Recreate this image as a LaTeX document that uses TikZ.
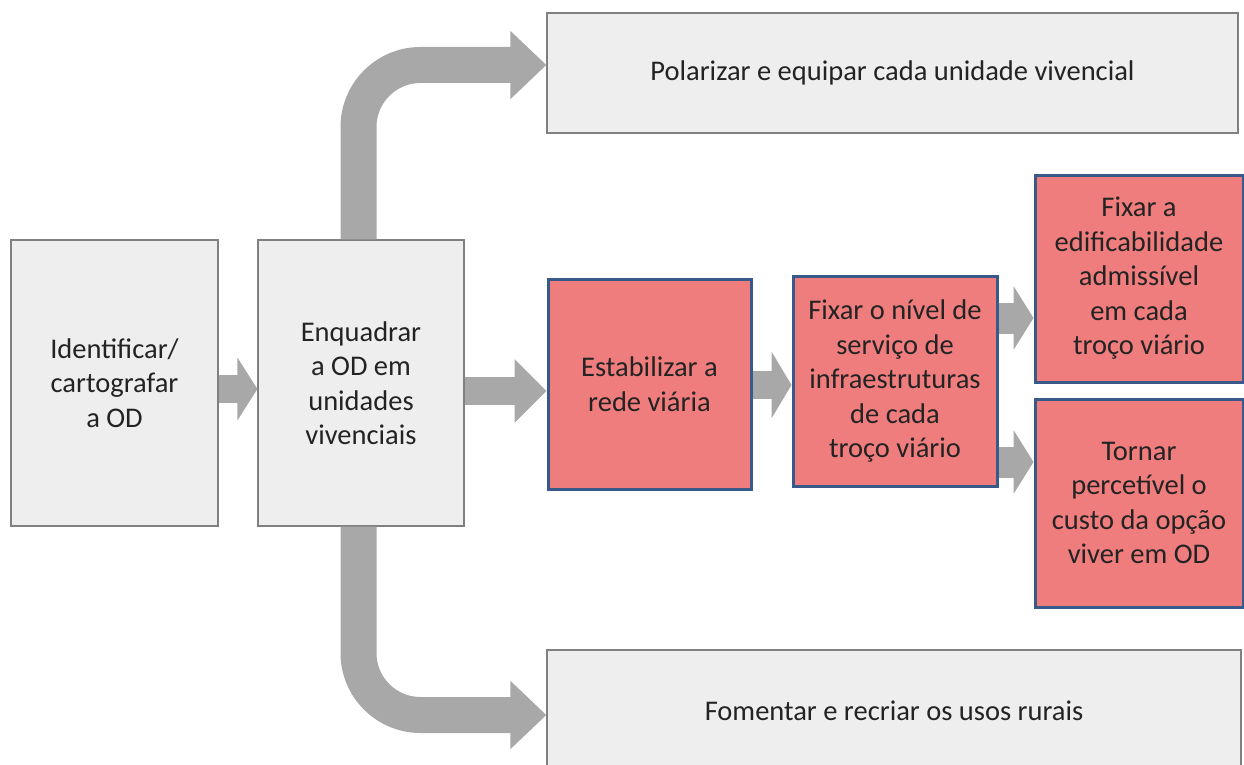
\documentclass[tikz,border=0pt]{standalone}
\usepackage{fontspec}
\setmainfont{Carlito}
\usetikzlibrary{arrows.meta}
\definecolor{boxfill}{RGB}{238,238,238}
\definecolor{boxline}{RGB}{128,128,128}
\definecolor{arrowgray}{RGB}{168,168,168}
\definecolor{redfill}{RGB}{240,125,125}
\definecolor{blueline}{RGB}{56,90,138}
\definecolor{txt}{RGB}{35,35,35}
\tikzset{
  graybox/.style={draw=boxline, line width=1.2pt, fill=boxfill, inner sep=0pt, align=center,
    text=txt, font=\fontsize{28.5}{34.5}\selectfont},
  redbox/.style={draw=blueline, line width=3pt, fill=redfill, inner sep=0pt, align=center,
    text=txt, font=\fontsize{28.5}{34.5}\selectfont},
  flow/.style={draw=arrowgray, line width=28pt, -{Triangle[length=20pt,width=62pt]}},
  sideflow/.style={draw=arrowgray, line width=31pt, -{Triangle[length=20pt,width=63pt]}},
  bendflow/.style={draw=arrowgray, line width=36pt, rounded corners=62pt, -{Triangle[length=36pt,width=66pt]}}
}
\begin{document}
\begin{tikzpicture}[x=1pt,y=-1pt]
\useasboundingbox (0,0) rectangle (1244,765);
\clip (0,0) rectangle (1244,765);
\fill[white] (0,0) rectangle (1244,765);
% gray boxes
\node[graybox, minimum width=207pt, minimum height=286pt] (A) at (114.5,383) {Identificar/\\cartografar\\a OD};
\node[graybox, minimum width=206pt, minimum height=286pt] (B) at (361,383) {Enquadrar\\a OD em\\unidades\\vivenciais};
\node[graybox, minimum width=691pt, minimum height=120pt] (top) at (892.5,73) {Polarizar e equipar cada unidade vivencial};
\node[graybox, minimum width=694pt, minimum height=122pt] (bot) at (894,711) {Fomentar e recriar os usos rurais};
% arrows between gray boxes
\draw[flow] ([yshift=-6pt]A.east) -- ([yshift=-6pt]B.west);
\draw[bendflow] ([xshift=-2.5pt]B.north) |- ([yshift=8pt]top.west);
\draw[bendflow] ([xshift=-2.5pt]B.south) |- ([yshift=-4pt]bot.west);
% red boxes
\node[redbox, minimum width=203pt, minimum height=210pt] (r1) at (649.5,384) {Estabilizar a\\rede viária};
\node[redbox, minimum width=204pt, minimum height=210pt] (r2) at (895,381) {Fixar o nível de\\serviço de\\infraestruturas\\de cada\\troço viário};
\node[redbox, minimum width=208pt, minimum height=207pt] (r3) at (1139,278.5) {Fixar a\\edificabilidade\\admissível\\em cada\\troço viário};
\node[redbox, minimum width=208pt, minimum height=208pt] (r4) at (1139,503) {Tornar\\percetível o\\custo da opção\\viver em OD};
% arrows into red boxes
\draw[flow, -{Triangle[length=32pt,width=62pt]}] ([yshift=-8pt]B.east) -- ([yshift=-7pt]r1.west);
\draw[flow, -{Triangle[length=20pt,width=66pt]}] ([yshift=-1pt]r1.east) -- ([yshift=-4pt]r2.west);
\draw[sideflow] ([yshift=63pt]r2.east) -- ([yshift=-39.5pt]r3.west);
\draw[sideflow] ([yshift=-81pt]r2.east) -- ([yshift=41pt]r4.west);
\end{tikzpicture}
\end{document}
